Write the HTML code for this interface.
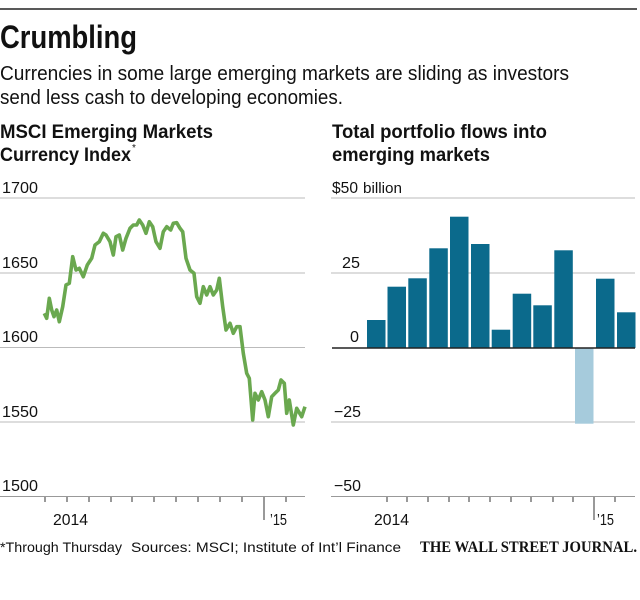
<!DOCTYPE html>
<html><head><meta charset="utf-8"><style>
html,body{margin:0;padding:0;background:#fff;width:640px;height:600px;overflow:hidden}
svg{display:block}
text{font-family:"Liberation Sans",sans-serif;fill:#111}
</style></head><body>
<svg width="640" height="600" viewBox="0 0 640 600" xmlns="http://www.w3.org/2000/svg">
<line x1="0" y1="9" x2="637" y2="9" stroke="#222" stroke-width="1.5"/>
<text x="0" y="48" font-size="32" font-weight="bold" textLength="137" lengthAdjust="spacingAndGlyphs">Crumbling</text>
<text x="0" y="80" font-size="20" textLength="569" lengthAdjust="spacingAndGlyphs" fill="#222">Currencies in some large emerging markets are sliding as investors</text>
<text x="0" y="104" font-size="20" textLength="343" lengthAdjust="spacingAndGlyphs" fill="#222">send less cash to developing economies.</text>
<text x="0" y="138" font-size="19" font-weight="bold" textLength="213" lengthAdjust="spacingAndGlyphs">MSCI Emerging Markets</text>
<text x="0" y="161" font-size="19" font-weight="bold" textLength="131" lengthAdjust="spacingAndGlyphs">Currency Index</text>
<text x="132" y="151" font-size="10">*</text>
<text x="332" y="138" font-size="19" font-weight="bold" textLength="215" lengthAdjust="spacingAndGlyphs">Total portfolio flows into</text>
<text x="332" y="161" font-size="19" font-weight="bold" textLength="158" lengthAdjust="spacingAndGlyphs">emerging markets</text>

<!-- left chart -->
<g stroke="#bbb" stroke-width="1">
<line x1="0" y1="198" x2="305" y2="198"/><line x1="0" y1="273" x2="305" y2="273"/>
<line x1="0" y1="347.5" x2="305" y2="347.5"/><line x1="0" y1="422" x2="305" y2="422"/>
</g>
<line x1="0" y1="496.5" x2="305" y2="496.5" stroke="#999" stroke-width="1"/>
<g font-size="16" fill="#222">
<text x="2" y="193" textLength="36" lengthAdjust="spacingAndGlyphs">1700</text>
<text x="2" y="268" textLength="36" lengthAdjust="spacingAndGlyphs">1650</text>
<text x="2" y="342" textLength="36" lengthAdjust="spacingAndGlyphs">1600</text>
<text x="2" y="417" textLength="36" lengthAdjust="spacingAndGlyphs">1550</text>
<text x="2" y="491" textLength="36" lengthAdjust="spacingAndGlyphs">1500</text>
<text x="53" y="525" textLength="35" lengthAdjust="spacingAndGlyphs">2014</text>
<text x="270" y="525" textLength="17" lengthAdjust="spacingAndGlyphs">’15</text>
</g>
<g stroke="#333" stroke-width="1">
<line x1="45" y1="497" x2="45" y2="502"/><line x1="67" y1="497" x2="67" y2="502"/>
<line x1="89" y1="497" x2="89" y2="502"/><line x1="111" y1="497" x2="111" y2="502"/>
<line x1="132" y1="497" x2="132" y2="502"/><line x1="154" y1="497" x2="154" y2="502"/>
<line x1="176" y1="497" x2="176" y2="502"/><line x1="198" y1="497" x2="198" y2="502"/>
<line x1="220" y1="497" x2="220" y2="502"/><line x1="242" y1="497" x2="242" y2="502"/>
<line x1="264" y1="497" x2="264" y2="520"/><line x1="286" y1="497" x2="286" y2="502"/>
</g>
<polyline fill="none" stroke="#6aa84f" stroke-width="3.6" stroke-linejoin="round" points="
44.3,313.3 46.7,318.3 49.3,298.3 51.7,310 54,316.7 56.7,310 59.3,321.7 62.7,306.7 66,285 69.3,283.3 72.7,256.7 76,270 79.3,268.3 83.3,276.7 87.3,265 91.7,258.3 95,245 99.3,241.7 103.3,233.3 106,235 110,241.7 113.3,255 116,236.7 119.3,235 122.7,250 126,238.3 130,228.3 133.3,225 136.7,225 139.3,220 142.7,225 146,233.3 149.3,221.7 152.7,226.7 156,241.7 160,248.3 163.3,231.7 166.7,226.7 170.7,230 173.3,223.3 176.7,222.7 180,228.3 182.7,231.7 186,258.3 190,270 194,273.3 196.7,296.7 200,303.3 203.3,286.7 206.7,295 210,286.7 213.3,295 216.7,290 219.3,278.3 222.7,306.7 226,330 230,323.3 233.3,333.3 236.7,326.7 240,326.7 243.3,353.3 246.7,373.3 249.3,378.3 252.7,420 255,393.3 258.3,400 261.7,391.7 265,400 268.3,416.7 271.7,396.7 275,393.3 278.3,390 281,380 284.3,383.3 286.7,413.3 289.3,400 293.3,425 296.7,408.3 301.7,416.7 305,406.7"/>

<!-- right chart -->
<g stroke="#bbb" stroke-width="1">
<line x1="331" y1="198" x2="635" y2="198"/><line x1="331" y1="273" x2="635" y2="273"/>
<line x1="331" y1="422" x2="635" y2="422"/>
</g>
<line x1="331" y1="496.5" x2="635" y2="496.5" stroke="#999" stroke-width="1"/>
<g fill="#0b6a8c">
<rect x="367" y="320" width="18.5" height="28"/>
<rect x="387.5" y="286.7" width="18.5" height="61.3"/>
<rect x="408.3" y="278.3" width="18.5" height="69.7"/>
<rect x="429.3" y="248.3" width="18.5" height="99.7"/>
<rect x="450" y="216.7" width="18.5" height="131.3"/>
<rect x="471" y="244" width="18.5" height="104"/>
<rect x="491.7" y="329.7" width="18.5" height="18.3"/>
<rect x="512.7" y="293.7" width="18.5" height="54.3"/>
<rect x="533.3" y="305.3" width="18.5" height="42.7"/>
<rect x="554.3" y="250.3" width="18.5" height="97.7"/>
<rect x="596" y="278.7" width="18.5" height="69.3"/>
<rect x="617" y="312.3" width="18.5" height="35.7"/>
</g>
<rect x="575" y="348" width="18.5" height="75.7" fill="#a6cbdc"/>
<line x1="332" y1="348" x2="635" y2="348" stroke="#222" stroke-width="1.5"/>
<g font-size="16" fill="#222">
<text x="332" y="193" textLength="26" lengthAdjust="spacingAndGlyphs">$50</text>
<text x="363" y="193" font-size="15" textLength="39" lengthAdjust="spacingAndGlyphs">billion</text>
<text x="342" y="268" textLength="18" lengthAdjust="spacingAndGlyphs">25</text>
<text x="350" y="342" textLength="9" lengthAdjust="spacingAndGlyphs">0</text>
<text x="334" y="417" textLength="27" lengthAdjust="spacingAndGlyphs">−25</text>
<text x="334" y="491" textLength="27" lengthAdjust="spacingAndGlyphs">−50</text>
<text x="374" y="525" textLength="35" lengthAdjust="spacingAndGlyphs">2014</text>
<text x="597" y="525" textLength="17" lengthAdjust="spacingAndGlyphs">’15</text>
</g>
<g stroke="#333" stroke-width="1">
<line x1="387" y1="497" x2="387" y2="502"/><line x1="407" y1="497" x2="407" y2="502"/>
<line x1="428" y1="497" x2="428" y2="502"/><line x1="449" y1="497" x2="449" y2="502"/>
<line x1="469" y1="497" x2="469" y2="502"/><line x1="490" y1="497" x2="490" y2="502"/>
<line x1="511" y1="497" x2="511" y2="502"/><line x1="531" y1="497" x2="531" y2="502"/>
<line x1="553" y1="497" x2="553" y2="502"/><line x1="573" y1="497" x2="573" y2="502"/>
<line x1="594" y1="497" x2="594" y2="520"/><line x1="615" y1="497" x2="615" y2="502"/>
</g>

<text x="0" y="552" font-size="14" fill="#222" textLength="122" lengthAdjust="spacingAndGlyphs">*Through Thursday</text>
<text x="131" y="552" font-size="14" fill="#222" textLength="270" lengthAdjust="spacingAndGlyphs">Sources: MSCI; Institute of Int’l Finance</text>
<text x="420" y="552" font-size="16" font-weight="bold" style="font-family:'Liberation Serif',serif" textLength="217" lengthAdjust="spacingAndGlyphs">THE WALL STREET JOURNAL.</text>
</svg>
</body></html>
